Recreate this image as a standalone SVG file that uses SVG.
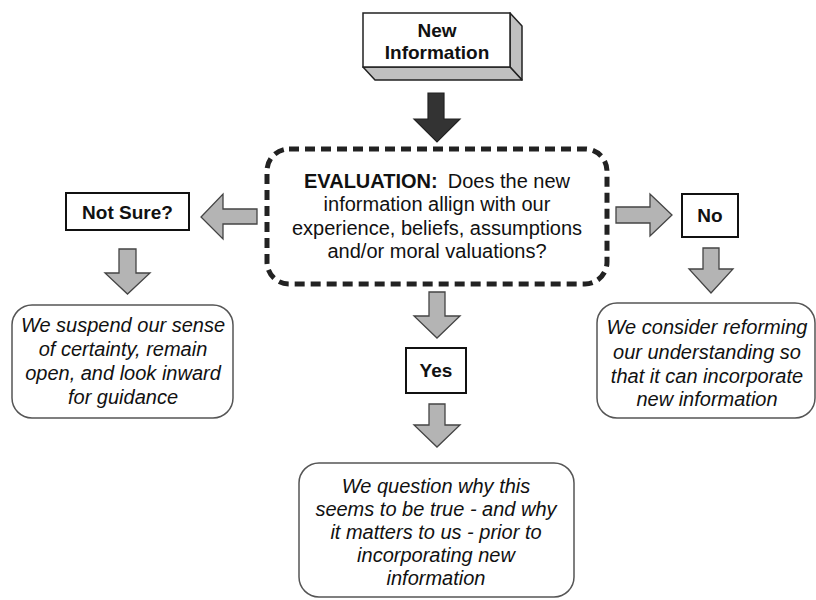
<svg xmlns="http://www.w3.org/2000/svg" width="816" height="600" viewBox="0 0 816 600">
<style>
.bg{fill:#fff}
.lbl{font-family:"Liberation Sans",Arial,sans-serif;font-size:20px;fill:#111;text-anchor:middle}
.b{font-weight:bold}
.i{font-style:italic}
.sm{font-size:19px}
.box{fill:#fff;stroke:#111;stroke-width:2}
.rbox{fill:#fff;stroke:#555;stroke-width:1.5}
.arr{fill:#b4b4b4;stroke:#444;stroke-width:1.3;stroke-linejoin:miter}
.side{fill:#c0c0c0;stroke:#222;stroke-width:1.5;stroke-linejoin:round}
</style>
<rect class="bg" x="0" y="0" width="816" height="600"/>

<g id="connectors">
  <polygon points="428,93 444,93 444,119 460,119 437,142 414,119 428,119" fill="#333" stroke="#222" stroke-width="1.2"/>
  <polygon class="arr" points="257,209 223,209 223,194 201,217 223,239 223,224 257,224"/>
  <polygon class="arr" points="616,207 650,207 650,194 672,215 650,236 650,223 616,223"/>
  <polygon class="arr" points="119,249 136,249 136,273 150,273 127.5,294 105,273 119,273"/>
  <polygon class="arr" points="703,248 719,248 719,269 733,269 711,293 689,269 703,269"/>
  <polygon class="arr" points="429,292 445,292 445,316 460,316 437,338 414,316 429,316"/>
  <polygon class="arr" points="429,404 445,404 445,425 460,425 437,447 414,425 429,425"/>
</g>

<g id="new-information">
  <polygon class="side" points="510,13 522,26 522,80 510,67"/>
  <polygon class="side" points="363,67 510,67 522,80 375,80"/>
  <rect x="363" y="13" width="147" height="54" fill="#fff" stroke="#222" stroke-width="1.5"/>
  <text class="lbl b sm" x="437" y="37">New</text>
  <text class="lbl b sm" x="437" y="59">Information</text>
</g>

<g id="evaluation">
  <rect x="267" y="149" width="340" height="135" rx="22" fill="#fff" stroke="#222" stroke-width="5" stroke-dasharray="10 6"/>
  <text class="lbl" x="437" y="188"><tspan class="b">EVALUATION:</tspan><tspan dx="10">Does the new</tspan></text>
  <text class="lbl" x="437" y="211">information allign with our</text>
  <text class="lbl" x="437" y="235">experience, beliefs, assumptions</text>
  <text class="lbl" x="437" y="258">and/or moral valuations?</text>
</g>

<g id="not-sure">
  <rect class="box" x="66" y="193" width="123" height="37"/>
  <text class="lbl b sm" x="127.5" y="219">Not Sure?</text>
</g>

<g id="no">
  <rect class="box" x="682" y="194" width="56" height="43"/>
  <text class="lbl b sm" x="710" y="222">No</text>
</g>

<g id="yes">
  <rect class="box" x="406" y="348" width="60" height="45"/>
  <text class="lbl b sm" x="436" y="377">Yes</text>
</g>

<g id="suspend">
  <rect class="rbox" x="12" y="305" width="221" height="113" rx="20"/>
  <text class="lbl i" x="123" y="332">We suspend our sense</text>
  <text class="lbl i" x="123" y="356">of certainty, remain</text>
  <text class="lbl i" x="123" y="380">open, and look inward</text>
  <text class="lbl i" x="123" y="404">for guidance</text>
</g>

<g id="reform">
  <rect class="rbox" x="597" y="303" width="218" height="115" rx="20"/>
  <text class="lbl i" x="707" y="334">We consider reforming</text>
  <text class="lbl i" x="707" y="359">our understanding so</text>
  <text class="lbl i" x="707" y="383">that it can incorporate</text>
  <text class="lbl i" x="707" y="406">new information</text>
</g>

<g id="question">
  <rect class="rbox" x="299" y="463" width="275" height="134" rx="20"/>
  <text class="lbl i" x="436" y="493">We question why this</text>
  <text class="lbl i" x="436" y="516">seems to be true - and why</text>
  <text class="lbl i" x="436" y="539">it matters to us - prior to</text>
  <text class="lbl i" x="436" y="562">incorporating new</text>
  <text class="lbl i" x="436" y="585">information</text>
</g>
</svg>
